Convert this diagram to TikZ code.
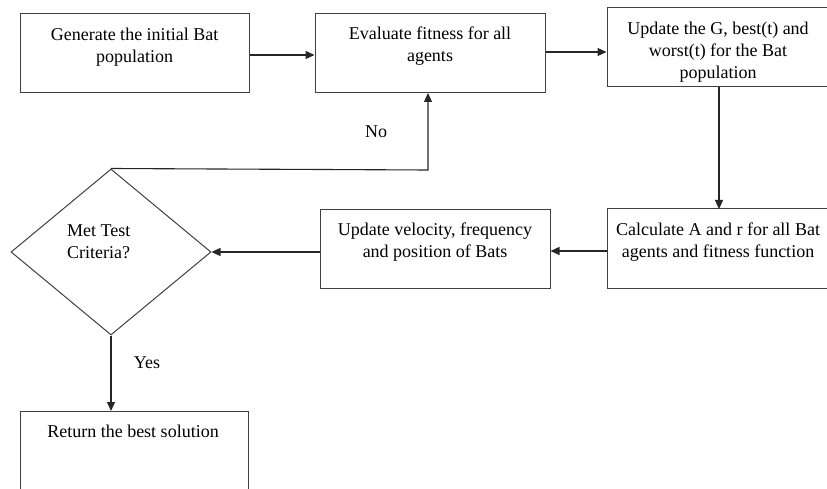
\documentclass[tikz,border=0pt]{standalone}
\usepackage{fontspec}
\setmainfont{Liberation Serif}
\usetikzlibrary{shapes.geometric,arrows.meta}
\begin{document}
\begin{tikzpicture}[x=1pt,y=-1pt,
  box/.style={draw=black!75,line width=1pt,rectangle,minimum width=#1,minimum height=79pt,inner sep=0pt},
  txt/.style={align=center,font=\fontsize{18}{22}\selectfont,inner sep=0pt,text=black},
  arr/.style={draw=black!85,line width=1.1pt,-{Triangle[length=9pt,width=8pt]}}]
\useasboundingbox (0,0) rectangle (827,489);
\clip (0,0) rectangle (827,489);
\node[box=229pt] (b1) at (134.5,53.5) {};
\node[box=230pt] (b2) at (430,53.5) {};
\node[box=222pt] (b3) at (718,47.5) {};
\node[box=222pt] (b4) at (718,248.5) {};
\node[box=230pt] (b5) at (435,249) {};
\node[draw=black!75,line width=1pt,diamond,minimum width=200pt,minimum height=166pt,inner sep=0pt,aspect=1.2] (d) at (111,252) {};
\coordinate (b6tl) at (20,411);
\coordinate (b6tr) at (248,411);
\draw[draw=black!75,line width=1pt] (20,495) -- (b6tl) -- (b6tr) -- (248,495);
\node[txt] (t1) at (134.5,47) {Generate the initial Bat\\population};
\node[txt] (t2) at (430,46) {Evaluate fitness for all\\agents};
\node[txt] (t3) at (718,52) {Update the G, best(t) and\\worst(t) for the Bat\\population};
\node[txt] (t4) at (718,242) {Calculate A and r for all Bat\\agents and fitness function};
\node[txt] (t5) at (435,242) {Update velocity, frequency\\and position of Bats};
\node[txt,align=left,anchor=west] (t6) at (67,242) {Met Test\\Criteria?};
\node[txt] (t7) at (133,431) {Return the best solution};
\node[txt] (no) at (376,132) {No};
\node[txt] (yes) at (147,363) {Yes};
\draw[arr] (b1.east |- 0,55) -- (b2.west |- 0,55);
\draw[arr] (b2.east |- 0,52) -- (b3.west |- 0,52);
\draw[arr] (719,87) -- (719,209);
\draw[arr] (b4.west |- 0,251) -- (b5.east |- 0,251);
\draw[arr] (b5.west |- d.east) -- (d.east);
\draw[arr] (d.north) -- (428,170) -- (428,93);
\draw[arr] (d.south) -- (b6tl -| d.south);
\end{tikzpicture}
\end{document}
